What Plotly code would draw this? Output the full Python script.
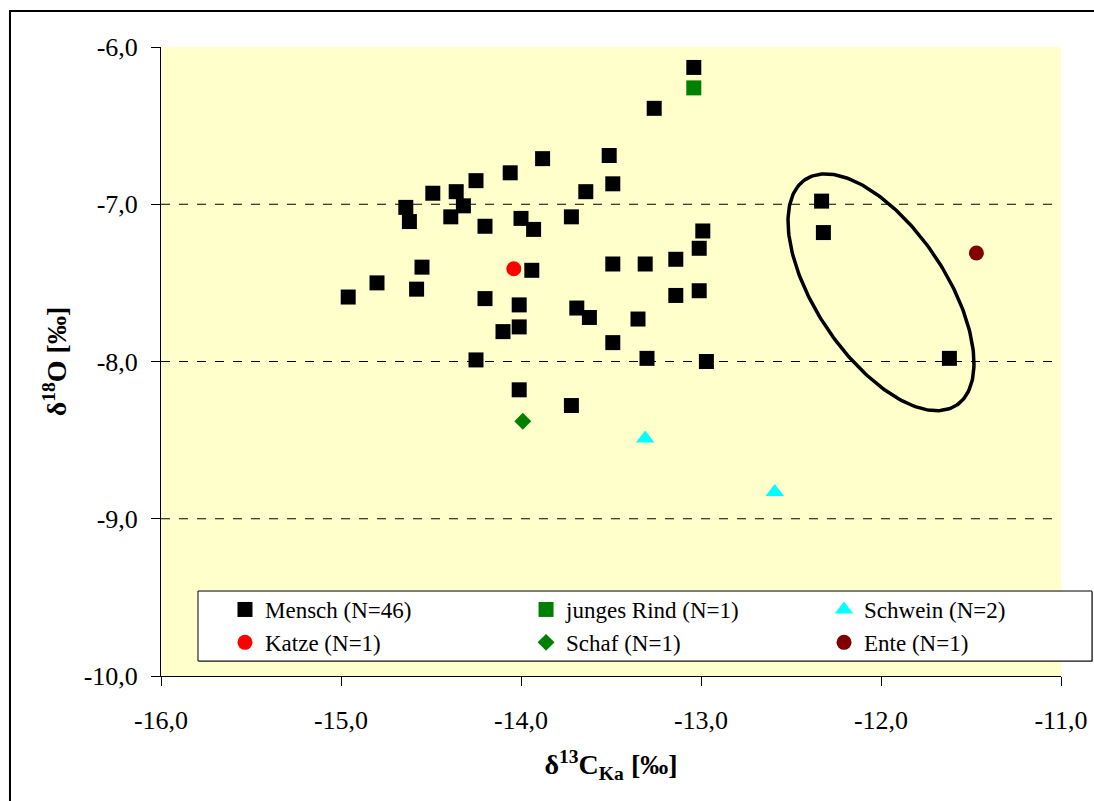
import numpy as np
import plotly.graph_objects as go

# --- Messwerte: delta13C (Kollagen/Apatit) gegen delta18O ---
mensch_x = [-13.51, -13.88, -14.06, -14.25, -14.49, -14.36, -14.32, -14.64, -14.62, -14.39,
            -14.20, -14.00, -13.93, -13.64, -13.49, -13.72, -12.99, -13.01, -13.14, -13.31,
            -13.49, -13.94, -14.55, -14.80, -14.96, -14.58, -14.20, -14.01, -14.01, -14.10,
            -13.69, -13.62, -13.14, -13.01, -13.35, -13.49, -13.30, -12.97, -14.25, -14.01,
            -13.72, -13.04, -13.26, -12.33, -12.32, -11.62]
mensch_y = [-6.69, -6.71, -6.80, -6.85, -6.93, -6.92, -7.01, -7.02, -7.11, -7.08,
            -7.14, -7.09, -7.16, -6.92, -6.87, -7.08, -7.17, -7.28, -7.35, -7.38,
            -7.38, -7.42, -7.40, -7.50, -7.59, -7.54, -7.60, -7.64, -7.78, -7.81,
            -7.66, -7.72, -7.58, -7.55, -7.73, -7.88, -7.98, -8.00, -7.99, -8.18,
            -8.28, -6.13, -6.39, -6.98, -7.18, -7.98]

rind_x, rind_y = [-13.04], [-6.26]
schwein_x, schwein_y = [-13.31, -12.59], [-8.49, -8.83]
katze_x, katze_y = [-14.04], [-7.41]
schaf_x, schaf_y = [-13.99], [-8.38]
ente_x, ente_y = [-11.47], [-7.31]

x_ticks = [-16, -15, -14, -13, -12, -11]
x_tick_labels = ["-16,0", "-15,0", "-14,0", "-13,0", "-12,0", "-11,0"]
y_ticks = [-10, -9, -8, -7, -6]
y_tick_labels = ["-10,0", "-9,0", "-8,0", "-7,0", "-6,0"]
grid_levels = [-7, -8, -9]

# Ellipse um die abweichende Gruppe (Mittelpunkt und Halbachsen in Achseneinheiten)
ell_cx, ell_cy = -12.0, -7.56
t = np.linspace(0, 2 * np.pi, 241)
ell_x = ell_cx + 0.4212 * np.cos(t) - 0.2990 * np.sin(t)
ell_y = ell_cy - 0.7168 * np.cos(t) - 0.2306 * np.sin(t)

FONT = "Liberation Serif"

fig = go.Figure()

fig.add_trace(go.Scatter(x=ell_x, y=ell_y, mode="lines", showlegend=False,
                         line=dict(color="black", width=3.5), hoverinfo="skip"))

# (Name, x, y, Symbol, Farbe, Größe, Legendenspalte)
series = [
    ("Mensch (N=46)", mensch_x, mensch_y, "square", "#000000", 15, "legend"),
    ("junges Rind (N=1)", rind_x, rind_y, "square", "#008000", 15, "legend2"),
    ("Schwein (N=2)", schwein_x, schwein_y, "triangle-up", "#00FFFF", 16, "legend3"),
    ("Katze (N=1)", katze_x, katze_y, "circle", "#FF0000", 15, "legend"),
    ("Schaf (N=1)", schaf_x, schaf_y, "diamond", "#008000", 13, "legend2"),
    ("Ente (N=1)", ente_x, ente_y, "circle", "#800000", 15, "legend3"),
]
for name, xs, ys, sym, col, sz, leg in series:
    fig.add_trace(go.Scatter(x=xs, y=ys, mode="markers", name=name, legend=leg,
                             marker=dict(symbol=sym, color=col, size=sz,
                                         line=dict(width=0))))

shapes = []
for lv in grid_levels:
    shapes.append(dict(type="line", xref="paper", yref="y", x0=0, x1=1, y0=lv, y1=lv,
                       line=dict(color="black", width=1, dash="dash"), layer="below"))
# Legendenkasten mit leichtem Schatten
shapes.append(dict(type="rect", xref="paper", yref="paper",
                   x0=0.0422, x1=1.0356, y0=0.0222, y1=0.1335,
                   line=dict(width=0), fillcolor="#9a9a9a", layer="above"))
shapes.append(dict(type="rect", xref="paper", yref="paper",
                   x0=0.0411, x1=1.0344, y0=0.0238, y1=0.1351,
                   line=dict(color="black", width=1), fillcolor="white", layer="above"))
# Rahmen um das gesamte Diagramm
shapes.append(dict(type="rect", xref="paper", yref="paper",
                   x0=-0.1678, x1=1.2, y0=-0.3, y1=1.0572,
                   line=dict(color="black", width=2), layer="above"))

legend_common = dict(orientation="v", yanchor="top", xanchor="left", y=0.1399,
                     bgcolor="rgba(0,0,0,0)", borderwidth=0, tracegroupgap=0,
                     font=dict(family=FONT, size=23, color="black"),
                     itemsizing="trace")

fig.update_layout(
    width=1094, height=801,
    margin=dict(l=161, r=33, t=47, b=125, autoexpand=False),
    paper_bgcolor="white",
    plot_bgcolor="#FFFFCC",
    font=dict(family=FONT, color="black", size=24),
    shapes=shapes,
    showlegend=True,
    legend=dict(x=0.0711, **legend_common),
    legend2=dict(x=0.4056, **legend_common),
    legend3=dict(x=0.7367, **legend_common),
    xaxis=dict(range=[-16, -11], tickvals=x_ticks, ticktext=x_tick_labels,
               showgrid=False, zeroline=False, showline=True, linecolor="black",
               linewidth=1, ticks="outside", ticklen=9, tickcolor="black",
               ticklabelstandoff=12,
               tickfont=dict(family=FONT, size=26),
               title=dict(text="<b>δ<sup>13</sup>C<sub>Ka</sub> [‰]</b>",
                          font=dict(family=FONT, size=28), standoff=20)),
    yaxis=dict(range=[-10, -6], tickvals=y_ticks, ticktext=y_tick_labels,
               showgrid=False, zeroline=False, showline=True, linecolor="black",
               linewidth=1, ticks="outside", ticklen=9, tickcolor="black",
               ticklabelstandoff=8,
               tickfont=dict(family=FONT, size=26),
               title=dict(text="<b>δ<sup>18</sup>O [‰]</b>",
                          font=dict(family=FONT, size=28), standoff=8)),
)

fig.write_html("out.html")
